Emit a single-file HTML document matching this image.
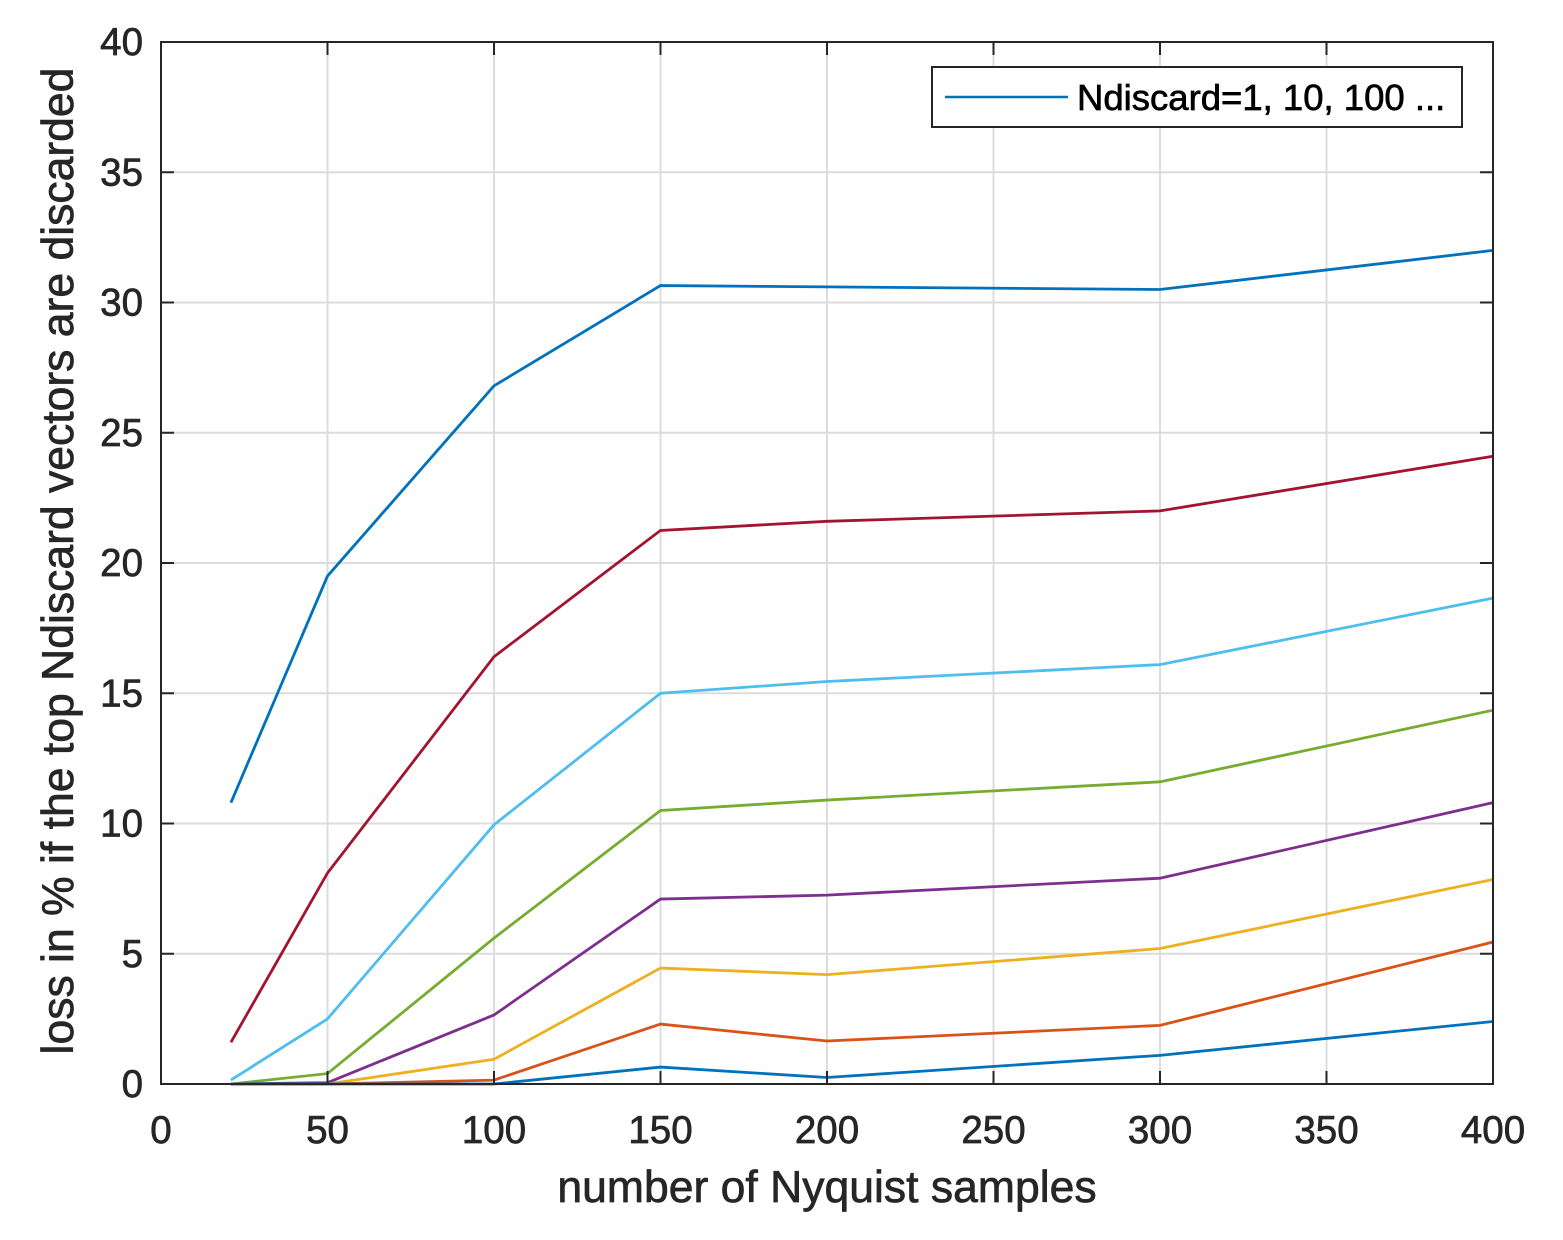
<!DOCTYPE html>
<html><head><meta charset="utf-8"><style>
html,body{margin:0;padding:0;background:#fff;}
svg{display:block;font-family:"Liberation Sans",Arial,sans-serif;}
text{stroke:currentColor;stroke-width:0.7;}
</style></head><body>
<svg id="s" width="1563" height="1240" xmlns="http://www.w3.org/2000/svg">
<rect width="1563" height="1240" fill="#fff"/>
<g id="grid"></g>
<g id="lines"></g>
<rect x="161" y="42" width="1332" height="1042" fill="none" stroke="#262626" stroke-width="2"/>
<g id="ticks" style="color:#262626"></g>
<text x="827" y="1202" font-size="44.5" text-anchor="middle" fill="#262626" style="color:#262626">number of Nyquist samples</text>
<text transform="translate(73,561) rotate(-90)" font-size="44.5" text-anchor="middle" fill="#262626" style="color:#262626">loss in % if the top Ndiscard vectors are discarded</text>
<rect x="932" y="67" width="530" height="60" fill="#fff" stroke="#262626" stroke-width="2"/>
<line x1="945" y1="97" x2="1068" y2="97" stroke="#0072BD" stroke-width="2.5"/>
<text x="1077" y="110" font-size="36.5" fill="#000" style="color:#000">Ndiscard=1, 10, 100 ...</text>
</svg>
<script>
var X=function(v){return 161+v*3.33},Y=function(v){return 1084-v*26.05};
var ns="http://www.w3.org/2000/svg";
function el(p,t,a,txt){var e=document.createElementNS(ns,t);for(var k in a)e.setAttribute(k,a[k]);if(txt!==undefined)e.textContent=txt;document.getElementById(p).appendChild(e);}
for(var i=0;i<=400;i+=50){var x=X(i);
 if(i>0&&i<400)el("grid","line",{x1:x,y1:42,x2:x,y2:1084,stroke:"#dcdcdc","stroke-width":2});
 el("ticks","line",{x1:x,y1:1084,x2:x,y2:1071,stroke:"#262626","stroke-width":2});
 el("ticks","line",{x1:x,y1:42,x2:x,y2:55,stroke:"#262626","stroke-width":2});
 el("ticks","text",{x:x,y:1143,"font-size":38.5,"text-anchor":"middle",fill:"#262626"},""+i);}
for(var j=0;j<=40;j+=5){var y=Y(j);
 if(j>0&&j<40)el("grid","line",{x1:161,y1:y,x2:1493,y2:y,stroke:"#dcdcdc","stroke-width":2});
 el("ticks","line",{x1:161,y1:y,x2:174,y2:y,stroke:"#262626","stroke-width":2});
 el("ticks","line",{x1:1493,y1:y,x2:1480,y2:y,stroke:"#262626","stroke-width":2});
 el("ticks","text",{x:143,y:y+13,"font-size":38.5,"text-anchor":"end",fill:"#262626"},""+j);}
var xs=[21,50,100,150,200,300,400];
var S=[["#0072BD",[10.8,19.5,26.8,30.65,30.6,30.5,32.0]],
["#A2142F",[1.6,8.1,16.4,21.25,21.6,22.0,24.1]],
["#4DBEEE",[0.15,2.5,9.95,15.0,15.45,16.1,18.65]],
["#77AC30",[0,0.4,5.6,10.5,10.9,11.6,14.35]],
["#7E2F8E",[0,0.05,2.65,7.1,7.25,7.9,10.8]],
["#EDB120",[0,0,0.95,4.45,4.2,5.2,7.85]],
["#D95319",[0,0,0.15,2.3,1.65,2.25,5.45]],
["#0072BD",[0,0,0,0.65,0.25,1.1,2.4]]];
S.forEach(function(s){var p=xs.map(function(x,i){return X(x)+","+Y(s[1][i]);}).join(" ");
 el("lines","polyline",{points:p,fill:"none",stroke:s[0],"stroke-width":2.8});});
</script>
</body></html>
